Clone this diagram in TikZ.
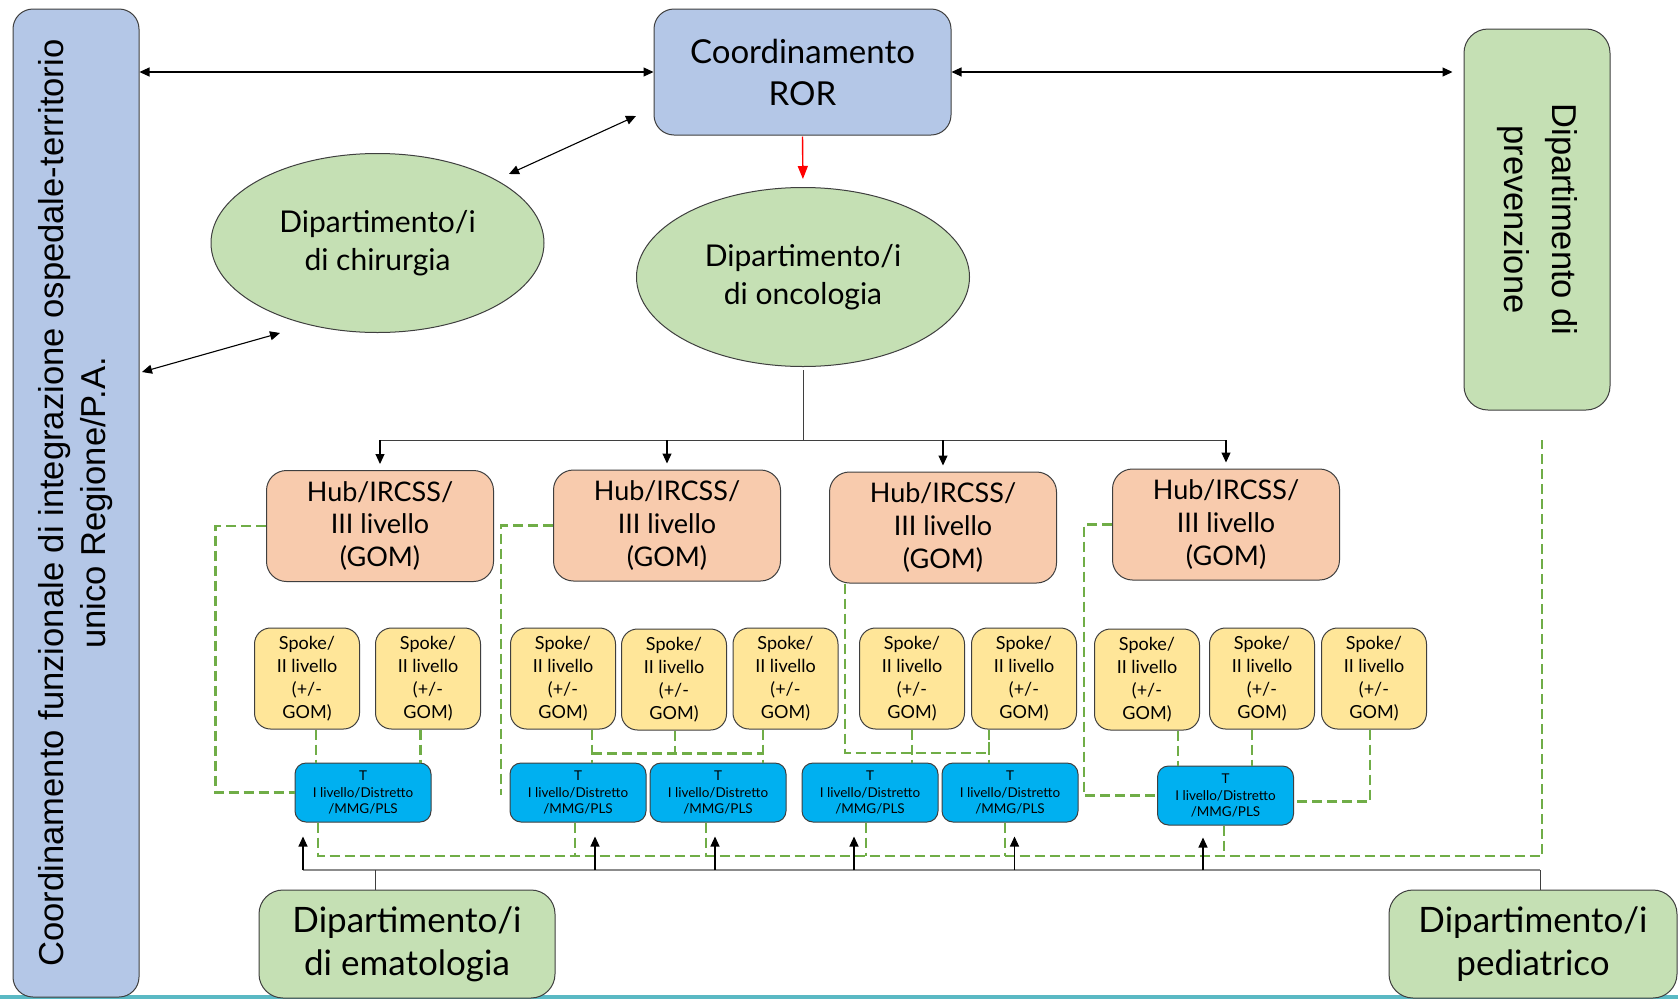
\documentclass[tikz,border=0pt]{standalone}
\usepackage{fontspec}
\setmainfont{Lato}
\newfontfamily\arialfont{Liberation Sans}
\usetikzlibrary{arrows.meta,shapes.geometric,calc}

\definecolor{rorblue}{HTML}{B4C7E7}
\definecolor{deptgreen}{HTML}{C5E0B4}
\definecolor{hubpeach}{HTML}{F8CBAD}
\definecolor{spokeyellow}{HTML}{FFE699}
\definecolor{tblue}{HTML}{00B0F0}
\definecolor{dashgreen}{HTML}{70AD47}
\definecolor{edgegray}{HTML}{3F3F3F}
\definecolor{busgray}{HTML}{8C8C8C}
\definecolor{slideteal}{HTML}{5AB9C4}

\begin{document}
\begin{tikzpicture}[x=1pt,y=-1pt,
    base/.style={draw=edgegray,line width=1pt,inner sep=0pt,align=center},
    bluebox/.style={base,fill=rorblue,rounded corners=20pt},
    greenbox/.style={base,fill=deptgreen,rounded corners=22pt},
    dept/.style={base,ellipse,fill=deptgreen,minimum width=333pt,minimum height=179pt,
        font=\fontsize{30}{37.5}\selectfont},
    hub/.style={base,fill=hubpeach,rounded corners=20pt,minimum width=227pt,minimum height=111pt,
        font=\fontsize{27}{32.6}\selectfont},
    spoke/.style={base,fill=spokeyellow,rounded corners=16pt,minimum width=105pt,minimum height=101pt,
        font=\fontsize{18}{23.2}\selectfont},
    tnode/.style={base,fill=tblue,rounded corners=11pt,minimum width=136pt,minimum height=59pt,
        font=\fontsize{13.5}{16.5}\selectfont},
    vtext/.style={align=center,inner sep=0pt},
    onearrow/.style={-{Triangle[length=10pt,width=9pt]},line width=1.1pt},
    twoarrow/.style={{Triangle[length=10pt,width=9pt]}-{Triangle[length=10pt,width=9pt]},line width=1.1pt},
    gdash/.style={draw=dashgreen,line width=2.3pt,dash pattern=on 10pt off 5pt}
  ]

  \useasboundingbox (0,0) rectangle (1678,999);
  \fill [white] (0,0) rectangle (1678,999);
  \fill [slideteal] (0,995) rectangle (1678,999);

  % side boxes
  \node [bluebox,minimum width=126pt,minimum height=988pt] (coordL) at (76,503) {};
  \node [vtext,rotate=90,font=\arialfont\fontsize{34.6}{42}\selectfont] (coordLtxt) at (coordL.center)
    {Coordinamento funzionale di integrazione ospedale-territorio\\unico Regione/P.A.};

  \node [greenbox,rounded corners=24pt,minimum width=146pt,minimum height=381pt] (prev) at (1537,219.5) {};
  \node [vtext,rotate=-90,font=\arialfont\fontsize{34.5}{48}\selectfont] (prevtxt) at (prev.center)
    {Dipartimento di\\prevenzione};

  % top
  \node [bluebox,minimum width=297pt,minimum height=126pt,font=\fontsize{33}{42}\selectfont] (ror) at (802.5,72)
    {Coordinamento\\ROR};
  \node [dept] (chir) at (377.5,243) {Dipartimento/i\\di chirurgia};
  \node [dept] (onco) at (803,277) {Dipartimento/i\\di oncologia};

  \draw [twoarrow] (coordL.east |- ror.west) -- (ror.west);
  \draw [twoarrow,shorten >=11pt] (ror.east) -- (prev.west |- ror.east);
  \coordinate (chirtop) at (509,174);
  \coordinate (rorfoot) at (636,116);
  \draw [twoarrow] (chirtop) -- (rorfoot);
  \coordinate (leftmid) at (142,372);
  \coordinate (chirfoot) at (280,333);
  \draw [twoarrow] (leftmid) -- (chirfoot);
  \draw [-{Triangle[length=13pt,width=10pt]},line width=1.4pt,red,shorten >=8pt,shorten <=1pt]
    (ror.south) -- (onco.north);

  % hubs, spokes, T
  \foreach \n/\x/\y in {1/380/526,2/667/525.5,3/943/527.5,4/1226/524.5}
    \node [hub] (hub\n) at (\x,\y) {Hub/IRCSS/\\III livello\\(GOM)};

  \foreach \n/\x/\y in {1/307/678.5,2/428/678.5,3/563/678.5,4/674/679.5,5/785.5/678.5,
                        6/912/678.5,7/1024/678.5,8/1147/679.5,9/1262/678.5,10/1374/678.5}
    \node [spoke] (sp\n) at (\x,\y) {Spoke/\\II livello\\(+/-\\GOM)};

  \foreach \n/\x/\y in {1/363/792.5,2/578/792.5,3/718/792.5,4/870/792.5,5/1010/792.5,6/1225.5/795.5}
    \node [tnode] (t\n) at (\x,\y) {T\\I livello/Distretto\\/MMG/PLS};

  \node [greenbox,rounded corners=24pt,minimum width=296pt,minimum height=108pt,font=\fontsize{35}{43}\selectfont]
    (emat) at (407,944) {Dipartimento/i\\di ematologia};
  \node [greenbox,rounded corners=24pt,minimum width=288pt,minimum height=108pt,font=\fontsize{35}{43}\selectfont]
    (pedi) at (1533,944) {Dipartimento/i\\pediatrico};

  % tree from oncologia
  \draw [edgegray,line width=1pt] ([yshift=-3pt]onco.south) -- ++(0,70) coordinate (split);
  \draw [edgegray,line width=1pt] (hub1.north |- split) -- (hub4.north |- split);
  \foreach \n in {1,...,4}
    \draw [onearrow,shorten >=6pt] (hub\n.north |- split) -- (hub\n.north);

  % green dashed links
  \draw [gdash] (hub1.west) -- ++(-50.5,0) |- (t1.west);
  \draw [gdash] (hub2.west) -- ++(-52,0) -- ++(0,269.5);
  \draw [gdash] ([xshift=16pt]hub3.south west) -- ++(0,169.5) -| ([xshift=-35pt]sp7.south);
  \draw [gdash] (hub4.west) -- ++(-28,0) |- (t6.west);

  \foreach \n/\m/\dx in {1/1/9,2/1/-7.5,3/2/29,5/3/-22.5,6/4/0,7/5/-35,8/6/31,9/6/-10}
    \draw [gdash] ([xshift=\dx pt]sp\n.south) -- ([xshift=\dx pt]sp\n.south |- t\m.north);
  \draw [gdash] ([xshift=1pt]sp4.south) -- ++(0,24);
  \draw [gdash] ($(sp3.south)+(29,24)$) -- ($(sp5.south)+(-22.5,24)$);
  \draw [gdash] ([xshift=-4pt]sp10.south) |- ([yshift=-6pt]t6.east);

  % dashed bus to prevenzione
  \coordinate (dbus) at (0,856);
  \draw [gdash] ([xshift=-45pt]t1.south) |- ($(prev.south |- dbus)+(5,0)$) -- ($(prev.south)+(5,29)$);
  \foreach \n/\dx in {2/-3,3/-12,4/-4,5/-5,6/-1.5}
    \draw [gdash] ([xshift=\dx pt]t\n.south) -- ([xshift=\dx pt]t\n.south |- dbus);

  % solid bus from ematologia and pediatrico
  \coordinate (sbus) at (0,870);
  \coordinate (ematup) at ($(emat.north)+(-32,0)$);
  \coordinate (pediup) at ($(pedi.north)+(7,0)$);
  \foreach \n/\dx in {1/-60,2/17,3/-3,4/-16,5/4.5,6/-22.5}
    \coordinate (tip\n) at ([xshift=\dx pt]t\n.south);
  \draw [busgray,line width=2pt] (tip1 |- sbus) -- (pediup |- sbus);
  \draw [edgegray,line width=1pt] (ematup) -- (ematup |- sbus);
  \draw [edgegray,line width=1pt] (pediup) -- (pediup |- sbus);
  \foreach \n in {1,...,5}
    \draw [onearrow,shorten >=14pt] (tip\n |- sbus) -- (tip\n);
  \draw [onearrow,shorten >=12pt] (tip6 |- sbus) -- (tip6);

\end{tikzpicture}
\end{document}
